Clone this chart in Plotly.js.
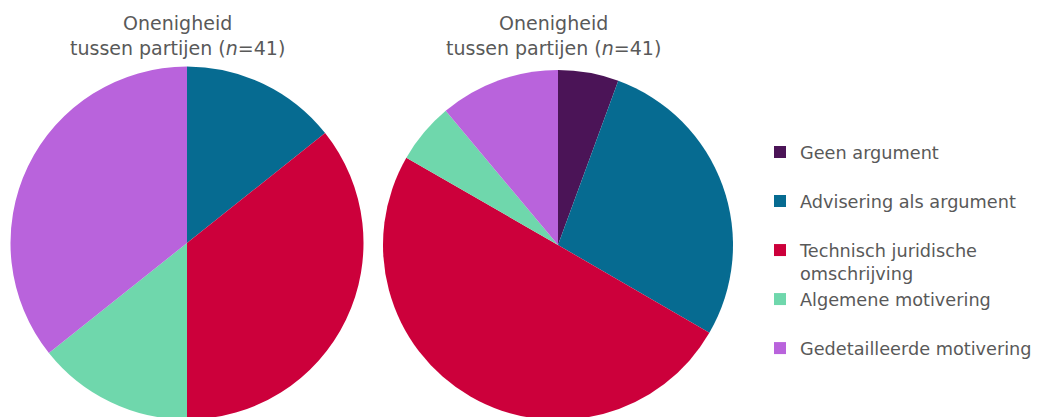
<!DOCTYPE html>
<html>
<head>
<meta charset="utf-8">
<script src="https://cdn.plot.ly/plotly-3.0.1.min.js"></script>
<style>
  html, body { margin: 0; padding: 0; overflow: hidden; background: #fff; }
  #chart { width: 1041px; height: 430px; }
</style>
</head>
<body>
<div id="chart"></div>
<script>
// categories, in legend order
const categories = [
  'Geen argument',
  'Advisering als argument',
  'Technisch juridische<br>omschrijving',
  'Algemene motivering',
  'Gedetailleerde motivering'
];
const colors = ['#4b1457', '#066b91', '#cc003b', '#6fd7ac', '#b963dc'];

// shares (%)
const leftValues = [0, 14.3, 35.7, 14.3, 35.7];
const rightValues = [5.6, 27.8, 50.0, 5.6, 11.1];

const pieTitle = 'Onenigheid<br>tussen partijen (<i>n</i>=41)';

// pad single-line labels so legend rows get the same height
const legendLabels = categories.map((c, i) =>
  (c.includes('<br>') || i === categories.length - 1) ? c : c + '<br>&nbsp;');

const W = 1041, H = 430;
function dom(cx, cy, r) {
  return {
    x: [(cx - r) / W, (cx + r) / W],
    y: [(H - cy - r) / H, (H - cy + r) / H]
  };
}

const pieBase = {
  type: 'pie',
  labels: legendLabels,
  sort: false,
  direction: 'clockwise',
  rotation: 0,
  textinfo: 'none',
  hoverinfo: 'label+percent',
  marker: { colors: colors, line: { width: 0 } }
};

const data = [
  Object.assign({}, pieBase, { values: rightValues, domain: dom(558, 245, 175) }),
  Object.assign({}, pieBase, { values: leftValues, domain: dom(187, 243, 176.5) })
];

const grey = '#595959';
function title(cx) {
  return {
    text: pieTitle, x: cx / W, y: (H - 10) / H, xref: 'paper', yref: 'paper',
    xanchor: 'center', yanchor: 'top', showarrow: false, align: 'center',
    font: { size: 19, color: grey }
  };
}

const layout = {
  width: W,
  height: H,
  margin: { l: 0, r: 0, t: 0, b: 0 },
  paper_bgcolor: '#fff',
  font: { family: 'DejaVu Sans, Verdana, sans-serif', color: grey },
  showlegend: true,
  legend: {
    x: 760 / W, xanchor: 'left',
    y: (H - 134) / H, yanchor: 'top',
    valign: 'top',
    font: { size: 17.7, color: grey },
    traceorder: 'normal'
  },
  annotations: [title(177), title(553)]
};

Plotly.newPlot('chart', data, layout, { displayModeBar: false });
</script>
</body>
</html>
